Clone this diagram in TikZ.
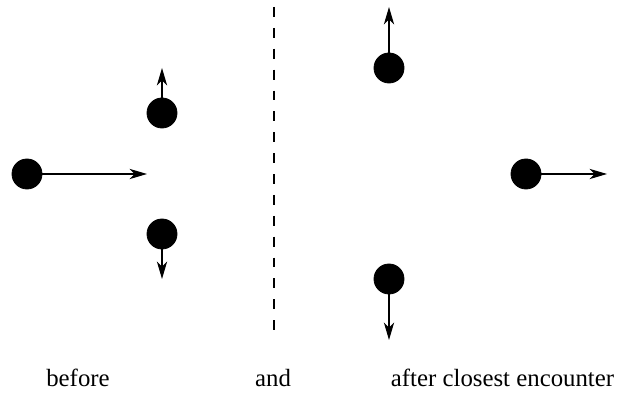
\documentclass[tikz,border=0pt]{standalone}
\usepackage{fontspec}
\setmainfont{Liberation Serif}
\usetikzlibrary{arrows.meta}

\tikzset{
  star/.style={draw,fill,circle,inner sep=0pt,minimum size=0.51cm},
  vel/.style={-{Stealth[length=8.5pt,width=5pt,inset=2.5pt]},semithick},
  lbl/.style={anchor=base,inner sep=0pt,font=\fontsize{12pt}{14pt}\selectfont}}

\begin{document}
\begin{tikzpicture}
\useasboundingbox (0,0) rectangle (10.557,6.698);
% before
\node (s0) at (0.459,3.74) [star] {};
\node (b1) at (2.754,4.777) [star] {};
\node (b2) at (2.754,2.72) [star] {};
\coordinate (s0v) at (2.499,3.74);
\coordinate (b1v) at (2.754,5.542);
\coordinate (b2v) at (2.754,1.955);
\draw [vel] (s0) -- (s0v);
\draw [vel] (b1) -- (b1v);
\draw [vel] (b2) -- (b2v);

% dividing line
\coordinate (top) at (4.658,6.579);
\coordinate (bot) at (4.658,0.918);
\draw [semithick, dash pattern=on 4.8pt off 5.3pt] (top) -- (bot);

% after
\node (b1a) at (6.613,5.542) [star] {};
\node (s0a) at (8.942,3.74) [star] {};
\node (b2a) at (6.613,1.955) [star] {};
\coordinate (b1av) at (6.613,6.579);
\coordinate (s0av) at (10.319,3.74);
\coordinate (b2av) at (6.613,0.918);
\draw [vel] (b1a) -- (b1av);
\draw [vel] (s0a) -- (s0av);
\draw [vel] (b2a) -- (b2av);

\node (before) at (1.326,0.119) [lbl] {before};
\node (and) at (4.641,0.119) [lbl] {and};
\node (after) at (8.543,0.119) [lbl] {after closest encounter};
\end{tikzpicture}
\end{document}
